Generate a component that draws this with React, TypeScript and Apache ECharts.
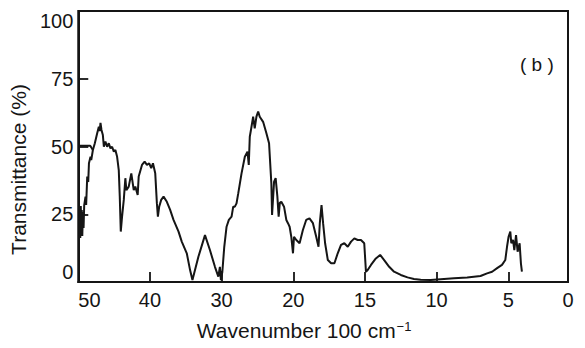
import React, { useEffect, useRef } from "react";
import * as echarts from "echarts";

// Wavenumber (100 cm^-1) and transmittance (%)
const START_WAVENUMBER = [49.86, 48.33, 47.96];
const START_TRANSMITTANCE = [50.3, 50.3, 48.7];

const WAVENUMBER = [
  49.86, 49.79, 49.72, 49.65, 49.58, 49.51, 49.44, 49.35, 49.26, 49.17, 48.99, 48.9, 48.75, 48.61, 48.51,
  48.29, 48.19, 47.96, 47.69, 47.36, 47.13, 47.01, 46.9, 46.76, 46.57, 46.43, 46.21, 45.97, 45.74, 45.51,
  45.28, 45.04, 44.82, 44.58, 44.35, 44.21, 44.07, 43.89, 43.65, 43.43, 43.29, 42.96, 42.6, 42.26, 42.04,
  41.71, 41.57, 41.11, 40.74, 40.42, 40.1, 39.82, 39.58, 39.26, 39.03, 38.89, 38.71, 38.43, 38.1, 37.64,
  37.18, 36.71, 36.01, 35.56, 34.86, 34.4, 34.07, 33.24, 32.32, 31.63, 30.93, 30.46, 30.24, 30.1, 29.9,
  29.63, 29.31, 28.99, 28.61, 28.38, 28.15, 27.92, 27.68, 27.22, 26.76, 26.39, 26.21, 26.07, 25.83, 25.6,
  25.38, 25.14, 24.9, 24.68, 24.21, 23.75, 23.38, 23.06, 22.96, 22.68, 22.46, 22.22, 22.04, 21.88, 21.67,
  21.29, 20.97, 20.74, 20.51, 20.28, 20.04, 19.95, 19.79, 19.56, 19.33, 19.1, 18.87, 18.63, 18.4, 18.24,
  18.15, 18.03, 17.92, 17.78, 17.59, 17.36, 17.13, 16.9, 16.67, 16.44, 16.2, 15.97, 15.74, 15.51, 15.28,
  15.05, 14.93, 14.81, 14.58, 14.24, 13.94, 13.66, 13.31, 12.97, 12.5, 12.03, 11.58, 11.11, 10.42, 9.72,
  8.79, 7.87, 6.94, 6.48, 6.13, 5.78, 5.44, 5.21, 5.09, 4.98, 4.86, 4.79, 4.67, 4.58, 4.46,
  4.35, 4.21, 4.12, 4.05,
];
const TRANSMITTANCE = [
  17, 27.3, 16.2, 28, 18.5, 26.6, 17, 25.8, 19.9, 28.4, 31.5, 28.4, 38.9, 36.9, 43.8,
  46.2, 45, 48.7, 51.2, 54.9, 57.3, 55.7, 58.7, 56.1, 54.2, 49.9, 51.8, 49.9, 51.2, 49.3,
  49.9, 48.1, 48.7, 46.2, 41.3, 31.5, 18.6, 24.1, 30.3, 38.3, 33.9, 35.2, 40.1, 33.9, 35.2,
  32.1, 38.9, 43.2, 44.4, 43.2, 43.8, 42, 43.8, 40.1, 29, 24.1, 27.8, 30.3, 31.5, 29.6,
  26.6, 22.9, 18.6, 14.9, 10.6, 4.4, 0.7, 9.3, 17.3, 11.8, 5.6, 2, 5.6, 0.7, 3.7,
  13, 20.4, 22.9, 24.1, 27.8, 27.8, 29, 32.7, 40.1, 46.2, 48.1, 43.2, 53.6, 57.3, 61,
  56.7, 61, 62.9, 61, 59.1, 54.9, 51.2, 36.4, 24.7, 37, 38.3, 31.5, 24.1, 29.2, 29.6,
  27.8, 22.9, 21.7, 20.4, 16.7, 10.6, 16.7, 15.5, 14.3, 19.2, 22.9, 23.5, 21.7, 16.7, 13,
  21.7, 28.4, 21.7, 14.3, 8.1, 6.9, 6.9, 10.6, 13.7, 14.3, 13, 14.9, 16.1, 15.5, 15.5,
  14.3, 3.8, 4.4, 6.3, 8.7, 10, 8.1, 5.6, 3.8, 2.6, 1.7, 1.1, 0.8, 0.7, 1,
  1.4, 1.7, 2.2, 3.2, 3.8, 5.1, 6.3, 8.1, 13, 16.7, 18.6, 14.3, 15.5, 11.8, 17.3,
  11.2, 14.3, 6.9, 3.8,
];

const X_TICK_LABELS = ["50", "40", "30", "20", "15", "10", "5", "0"];
const Y_TICK_LABELS = ["0", "25", "50", "75", "100"];

// Axis is linear from 50 to 20, then expanded twice as much below 20
const toPos = (w: number) => (w >= 20 ? 50 - w : 30 + (20 - w) * 2);
const X_MAX_POS = 68.33;

const FONT = "Liberation Sans";
const INK = "#151515";

export default function App() {
  const ref = useRef<HTMLDivElement>(null);
  useEffect(() => {
    if (!ref.current) return;
    const chart = echarts.init(ref.current, null, { renderer: "svg" });
    const lineStyle = { color: INK, width: 2 };
    chart.setOption({
      animation: false,
      backgroundColor: "#fff",
      grid: {
        left: 76,
        right: 17,
        top: 11,
        bottom: 66,
        show: true,
        borderColor: INK,
        borderWidth: 2,
        backgroundColor: "transparent",
      },
      xAxis: {
        type: "value",
        min: 0,
        max: X_MAX_POS,
        interval: 10,
        name: "Wavenumber 100 cm{sup|−1}",
        nameLocation: "middle",
        nameGap: 38,
        nameTextStyle: {
          fontFamily: FONT,
          fontSize: 21,
          color: INK,
          padding: [0, 38, 0, 0],
          rich: { sup: { fontFamily: FONT, fontSize: 13, color: INK, verticalAlign: "top", padding: [0, 0, 8, 1] } },
        },
        axisLine: { show: true, lineStyle: { color: INK, width: 2 } },
        axisTick: { show: true, inside: true, length: 10, lineStyle: { color: INK, width: 1.8 } },
        splitLine: { show: false },
        axisLabel: {
          fontFamily: FONT,
          fontSize: 20,
          color: INK,
          margin: 8,
          alignMinLabel: "left",
          formatter: (_v: number, i: number) => X_TICK_LABELS[i] ?? "",
        },
      },
      yAxis: {
        type: "value",
        min: 0,
        max: 100,
        interval: 25,
        name: "Transmittance (%)",
        nameLocation: "middle",
        nameGap: 41,
        nameTextStyle: {
          fontFamily: FONT,
          fontSize: 21,
          color: INK,
          padding: [0, 46, 0, 0],
        },
        axisLine: { show: true, lineStyle: { color: INK, width: 2 } },
        axisTick: { show: true, inside: true, length: 10, lineStyle: { color: INK, width: 1.8 } },
        splitLine: { show: false },
        axisLabel: {
          fontFamily: FONT,
          fontSize: 20,
          color: INK,
          margin: 5,
          verticalAlignMinLabel: "bottom",
          verticalAlignMaxLabel: "top",
          formatter: (_v: number, i: number) => Y_TICK_LABELS[i] ?? "",
        },
      },
      graphic: [
        {
          type: "text",
          left: 520,
          top: 55,
          style: { text: "( b )", fontFamily: FONT, fontSize: 19, fill: INK },
        },
      ],
      series: [
        {
          type: "line",
          data: START_WAVENUMBER.map((w, i) => [toPos(w), START_TRANSMITTANCE[i]]),
          showSymbol: false,
          lineStyle,
        },
        {
          type: "line",
          data: WAVENUMBER.map((w, i) => [toPos(w), TRANSMITTANCE[i]]),
          showSymbol: false,
          lineStyle,
        },
      ],
    });
    return () => chart.dispose();
  }, []);
  return <div ref={ref} style={{ width: 585, height: 348, position: "absolute", left: 0, top: 0 }} />;
}
